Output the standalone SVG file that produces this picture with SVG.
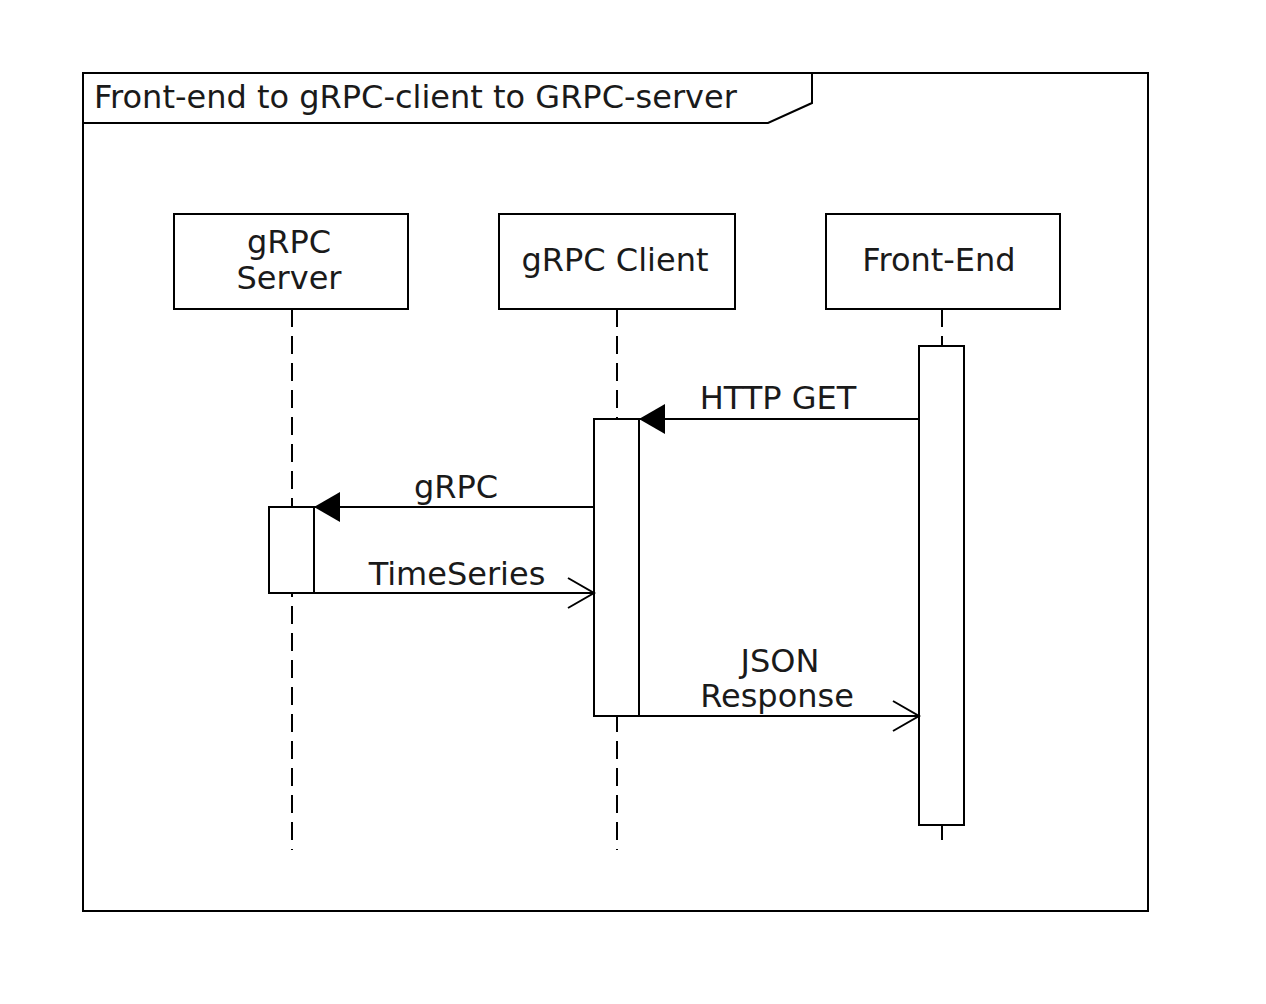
<svg xmlns="http://www.w3.org/2000/svg" width="1266" height="1004" viewBox="0 0 1266 1004">
<style>
.ln{fill:none;stroke:#000;stroke-width:2}
.box{fill:#fff;stroke:#000;stroke-width:2}
.life{fill:none;stroke:#000;stroke-width:2;stroke-dasharray:18,9}
text{font-family:"DejaVu Sans",sans-serif;font-size:32px;fill:#1a1a1a}
.c{text-anchor:middle}
</style>
<defs>
<marker id="filled" markerWidth="28" markerHeight="32" refX="0" refY="16" orient="auto" markerUnits="userSpaceOnUse" viewBox="-26 0 28 32"><path d="M0,16 L-26,1 L-26,31 Z" fill="#000"/></marker>
<marker id="open" markerWidth="30" markerHeight="34" refX="0" refY="17" orient="auto" markerUnits="userSpaceOnUse" viewBox="-28 0 30 34"><path d="M-26,2 L0,17 L-26,32" fill="none" stroke="#000" stroke-width="2"/></marker>
</defs>
<rect width="1266" height="1004" fill="#fff"/>
<g id="frame">
<rect class="ln" x="83" y="73" width="1065" height="838"/>
<path class="ln" d="M83,123 H768 L812,103 V73"/>
<text x="94" y="108">Front-end to gRPC-client to GRPC-server</text>
</g>
<g id="lifelines">
<line class="life" x1="292" y1="309" x2="292" y2="850"/>
<line class="life" x1="617" y1="309" x2="617" y2="850"/>
<line class="life" x1="942" y1="309" x2="942" y2="842"/>
</g>
<g id="gRPC-Server">
<rect class="box" x="174" y="214" width="234" height="95"/>
<text class="c" x="289" y="253">gRPC</text>
<text class="c" x="289" y="289">Server</text>
</g>
<g id="gRPC-Client">
<rect class="box" x="499" y="214" width="236" height="95"/>
<text class="c" x="615" y="271">gRPC Client</text>
</g>
<g id="Front-End">
<rect class="box" x="826" y="214" width="234" height="95"/>
<text class="c" x="939" y="271">Front-End</text>
</g>
<g id="activations">
<rect class="box" x="919" y="346" width="45" height="479"/>
<rect class="box" x="594" y="419" width="45" height="297"/>
<rect class="box" x="269" y="507" width="45" height="86"/>
</g>
<g id="connectors">
<line class="ln" x1="919" y1="419" x2="639" y2="419" marker-end="url(#filled)"/>
<line class="ln" x1="594" y1="507" x2="314" y2="507" marker-end="url(#filled)"/>
<line class="ln" x1="314" y1="593" x2="594" y2="593" marker-end="url(#open)"/>
<line class="ln" x1="639" y1="716" x2="919" y2="716" marker-end="url(#open)"/>
<text class="c" x="778" y="409">HTTP GET</text>
<text class="c" x="456" y="498">gRPC</text>
<text class="c" x="457" y="585">TimeSeries</text>
<text class="c" x="780" y="672">JSON</text>
<text class="c" x="777" y="707">Response</text>
</g>
</svg>
